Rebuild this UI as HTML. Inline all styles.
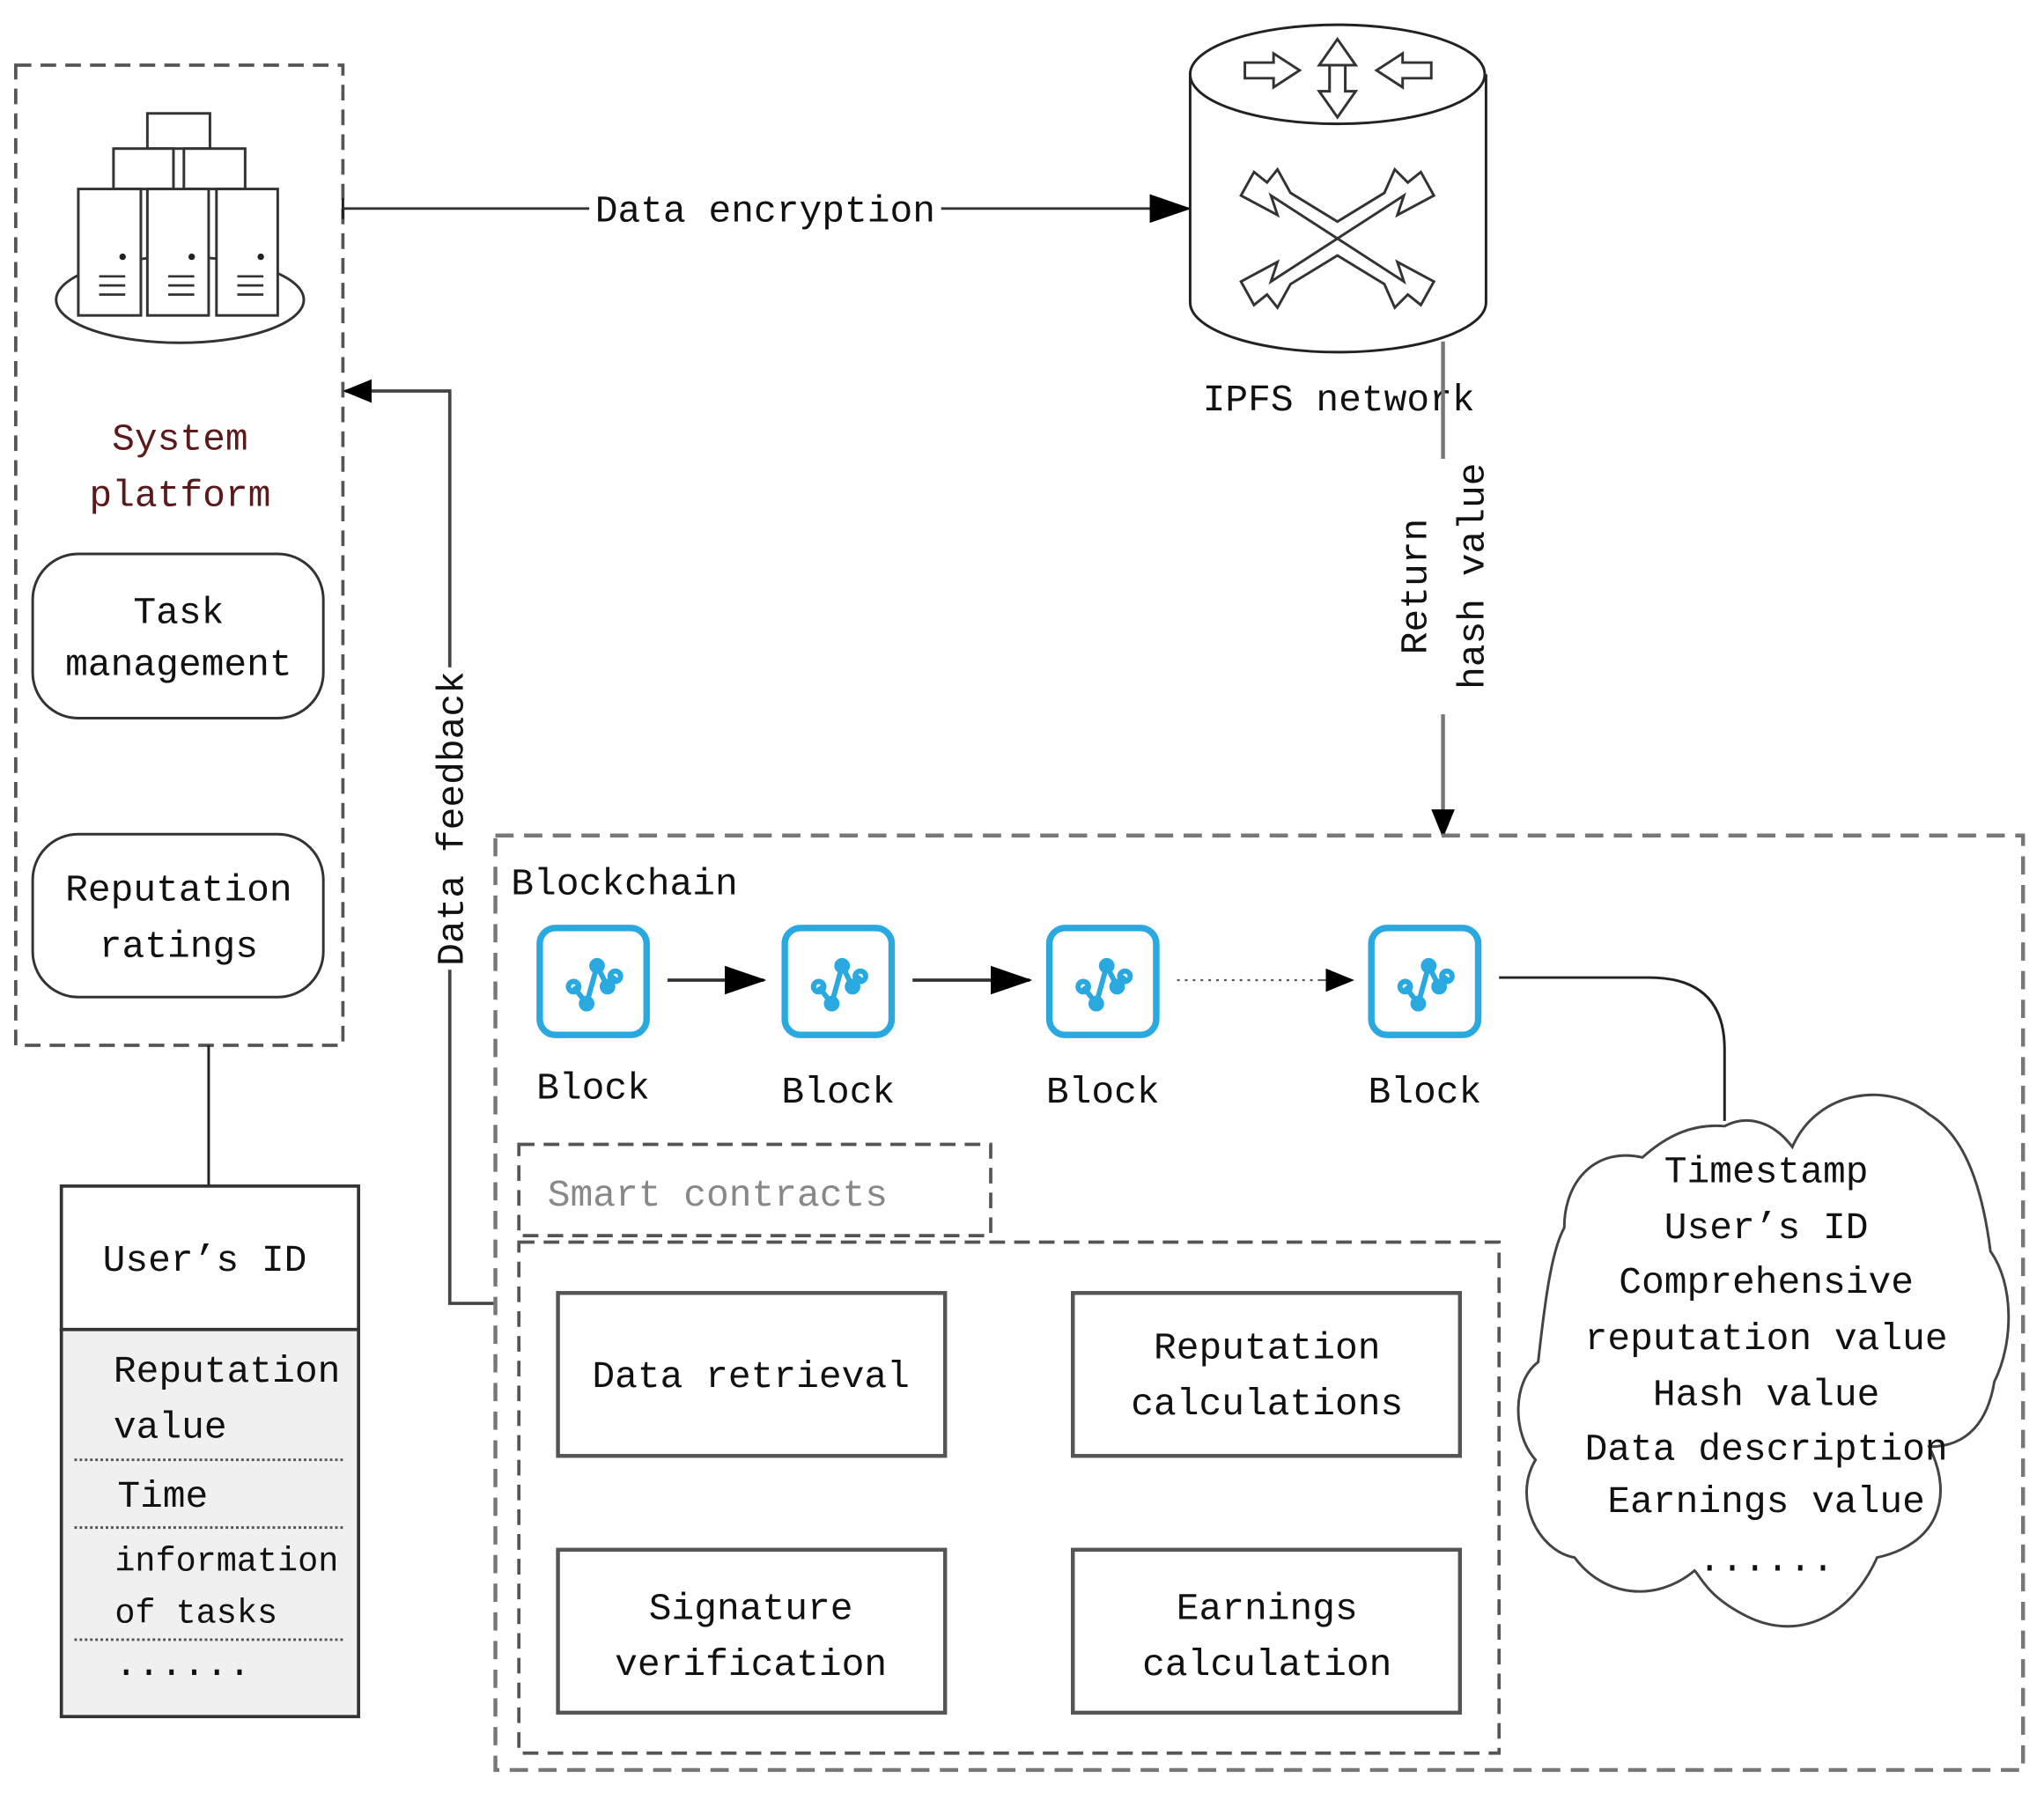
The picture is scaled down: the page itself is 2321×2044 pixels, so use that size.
<!DOCTYPE html>
<html><head><meta charset="utf-8"><style>
html,body{margin:0;padding:0;background:#fff}
svg{display:block}
text{font-family:"Liberation Mono","Noto Sans CJK SC",monospace;font-size:29px;fill:#111}
</style></head><body>
<svg width="2321" height="2044" viewBox="0 0 1568 1381" xmlns="http://www.w3.org/2000/svg">
<defs>
<marker id="ah" markerWidth="32" markerHeight="22" refX="30" refY="11" orient="auto" markerUnits="userSpaceOnUse" viewBox="0 0 32 22"><path d="M0,0 L32,11 L0,22 z" fill="#000"/></marker>
<marker id="ahs" markerWidth="22" markerHeight="18" refX="20" refY="9" orient="auto" markerUnits="userSpaceOnUse" viewBox="0 0 22 18"><path d="M0,0 L22,9 L0,18 z" fill="#000"/></marker>
</defs>
<!-- System platform box -->
<rect x="12" y="50" width="251" height="752" fill="none" stroke="#555" stroke-width="2.5" stroke-dasharray="12 7"/>
<g stroke="#333" stroke-width="2" fill="#fff">
<ellipse cx="138" cy="230" rx="95" ry="33"/>
<rect x="113" y="87" width="48" height="27"/>
<rect x="87" y="114" width="46" height="31"/>
<rect x="141" y="114" width="47" height="31"/>
<rect x="60" y="145" width="48" height="97"/>
<rect x="113" y="145" width="47" height="97"/>
<rect x="166" y="145" width="47" height="97"/>
</g>
<g stroke="#333" stroke-width="1.8">
<path d="M76,212h20M76,219h20M76,226h20M129,212h20M129,219h20M129,226h20M182,212h20M182,219h20M182,226h20"/>
</g>
<g fill="#222"><circle cx="94" cy="197" r="2.5"/><circle cx="147" cy="197" r="2.5"/><circle cx="200" cy="197" r="2.5"/></g>
<text x="138" y="345" text-anchor="middle" style="fill:#5a1a1a">System</text>
<text x="138" y="388" text-anchor="middle" style="fill:#5a1a1a">platform</text>
<rect x="25" y="425" width="223" height="126" rx="35" fill="#fff" stroke="#333" stroke-width="2"/>
<text x="137" y="478" text-anchor="middle">Task</text>
<text x="137" y="518" text-anchor="middle">management</text>
<rect x="25" y="640" width="223" height="125" rx="35" fill="#fff" stroke="#333" stroke-width="2"/>
<text x="137" y="691" text-anchor="middle">Reputation</text>
<text x="137" y="734" text-anchor="middle">ratings</text>
<line x1="160" y1="802" x2="160" y2="910" stroke="#222" stroke-width="2"/>
<rect x="47" y="1020" width="228" height="297" fill="#f0f0f0" stroke="#333" stroke-width="2.5"/>
<rect x="47" y="910" width="228" height="110" fill="#fff" stroke="#333" stroke-width="2.5"/>
<text x="157" y="975" text-anchor="middle">User’s ID</text>
<text x="87" y="1060">Reputation</text>
<text x="87" y="1103">value</text>
<line x1="57" y1="1120" x2="263" y2="1120" stroke="#555" stroke-width="2" stroke-dasharray="2 2"/>
<text x="90" y="1156">Time</text>
<line x1="57" y1="1172" x2="263" y2="1172" stroke="#555" stroke-width="2" stroke-dasharray="2 2"/>
<text x="88" y="1205" style="font-size:26px">information</text>
<text x="88" y="1245" style="font-size:26px">of tasks</text>
<line x1="57" y1="1258" x2="263" y2="1258" stroke="#555" stroke-width="2" stroke-dasharray="2 2"/>
<text x="88" y="1285">......</text>
<!-- Data encryption -->
<line x1="263" y1="152" x2="263" y2="168" stroke="#222" stroke-width="2"/>
<line x1="263" y1="160" x2="912" y2="160" stroke="#333" stroke-width="2" marker-end="url(#ah)"/>
<rect x="452" y="140" width="270" height="36" fill="#fff"/>
<text x="587" y="170" text-anchor="middle">Data encryption</text>
<!-- IPFS cylinder -->
<path d="M913,57 V232 A113,38 0 0 0 1140,232 V57" fill="#fff" stroke="#222" stroke-width="2"/>
<ellipse cx="1026" cy="57" rx="113" ry="38" fill="#fff" stroke="#222" stroke-width="2"/>
<g fill="#fff" stroke="#333" stroke-width="2">
<path d="M955,48 h22 v-7 l20,13 l-20,13 v-7 h-22 z"/>
<path d="M1098,48 h-22 v-7 l-20,13 l20,13 v-7 h22 z"/>
<path d="M1020,72 v-22 h-8 l14,-20 l14,20 h-8 v22 z"/>
<path d="M1020,50 v20 h-8 l14,20 l14,-20 h-8 v-20 z"/>
<path d="M1026,183 L975,150 L980,165 L952,150 L962,132 L972,140 L980,130 L990,148 L1026,170 L1062,148 L1070,130 L1080,140 L1090,132 L1100,150 L1072,165 L1077,150 Z"/>
<path d="M1026,183 L975,216 L980,201 L952,216 L962,234 L972,226 L980,236 L990,218 L1026,196 L1062,218 L1070,236 L1080,226 L1090,234 L1100,216 L1072,201 L1077,216 Z"/>
</g>
<text x="1027" y="315" text-anchor="middle">IPFS network</text>
<!-- return hash value -->
<line x1="1107" y1="262" x2="1107" y2="352" stroke="#777" stroke-width="3"/>
<line x1="1107" y1="548" x2="1107" y2="641" stroke="#777" stroke-width="3" marker-end="url(#ahs)"/>
<text transform="translate(1094,450) rotate(-90)" text-anchor="middle">Return</text>
<text transform="translate(1138,442) rotate(-90)" text-anchor="middle">hash value</text>
<!-- Data feedback -->
<polyline points="380,1000 345,1000 345,300 265,300" fill="none" stroke="#444" stroke-width="2.5" marker-end="url(#ahs)"/>
<rect x="330" y="512" width="30" height="232" fill="#fff"/>
<text transform="translate(355,628) rotate(-90)" text-anchor="middle">Data feedback</text>
<!-- Blockchain box -->
<rect x="380" y="641" width="1172" height="717" fill="none" stroke="#777" stroke-width="3" stroke-dasharray="14 8"/>
<text x="392" y="686">Blockchain</text>
<g fill="none" stroke="#29a9e0" stroke-width="5">
<rect x="414" y="712" width="82" height="82" rx="12"/>
<rect x="602" y="712" width="82" height="82" rx="12"/>
<rect x="805" y="712" width="82" height="82" rx="12"/>
<rect x="1052" y="712" width="82" height="82" rx="12"/>
</g>
<g id="ic" fill="none" stroke="#29a9e0" stroke-width="4">
<path d="M440,757 L450,770 L458,741 L466,757 L472,749"/>
<circle cx="440" cy="757" r="4"/><circle cx="450" cy="770" r="4"/><circle cx="458" cy="741" r="4"/><circle cx="466" cy="757" r="4"/><circle cx="472" cy="749" r="4"/>
</g>
<use href="#ic" x="188"/>
<use href="#ic" x="391"/>
<use href="#ic" x="638"/>
<text x="455" y="843" text-anchor="middle">Block</text>
<text x="643" y="846" text-anchor="middle">Block</text>
<text x="846" y="846" text-anchor="middle">Block</text>
<text x="1093" y="846" text-anchor="middle">Block</text>
<line x1="512" y1="752" x2="586" y2="752" stroke="#333" stroke-width="2.5" marker-end="url(#ah)"/>
<line x1="700" y1="752" x2="790" y2="752" stroke="#333" stroke-width="2.5" marker-end="url(#ah)"/>
<line x1="903" y1="752" x2="1012" y2="752" stroke="#555" stroke-width="1.5" stroke-dasharray="2 4"/>
<line x1="1012" y1="752" x2="1037" y2="752" stroke="#333" stroke-width="1" marker-end="url(#ahs)"/>
<path d="M1150,750 H1265 Q1323,750 1323,805 V860" fill="none" stroke="#222" stroke-width="2"/>
<!-- smart contracts -->
<rect x="398" y="878" width="362" height="70" fill="none" stroke="#555" stroke-width="2.5" stroke-dasharray="12 7"/>
<text x="420" y="925" style="fill:#888">Smart contracts</text>
<rect x="398" y="953" width="752" height="392" fill="none" stroke="#555" stroke-width="2.5" stroke-dasharray="12 7"/>
<g fill="#fff" stroke="#555" stroke-width="3">
<rect x="428" y="992" width="297" height="125"/>
<rect x="823" y="992" width="297" height="125"/>
<rect x="428" y="1189" width="297" height="125"/>
<rect x="823" y="1189" width="297" height="125"/>
</g>
<text x="576" y="1064" text-anchor="middle">Data retrieval</text>
<text x="972" y="1042" text-anchor="middle">Reputation</text>
<text x="972" y="1085" text-anchor="middle">calculations</text>
<text x="576" y="1242" text-anchor="middle">Signature</text>
<text x="576" y="1285" text-anchor="middle">verification</text>
<text x="972" y="1242" text-anchor="middle">Earnings</text>
<text x="972" y="1285" text-anchor="middle">calculation</text>
<!-- cloud -->
<path d="M1323,864 C1340,855 1360,860 1375,880 C1395,835 1450,830 1480,855 C1505,870 1520,905 1527,960 C1545,985 1545,1030 1530,1060 C1525,1090 1510,1110 1480,1110 C1500,1150 1485,1185 1440,1195 C1420,1240 1380,1260 1340,1240 C1310,1225 1305,1210 1300,1205 C1270,1230 1230,1225 1208,1195 C1180,1190 1160,1150 1178,1120 C1160,1100 1160,1060 1180,1045 C1185,1000 1190,960 1200,942 C1200,905 1225,880 1260,888 C1280,870 1300,862 1323,864 Z" fill="#fff" stroke="#444" stroke-width="2"/>
<g style="font-size:28px">
<text x="1355" y="907" text-anchor="middle">Timestamp</text>
<text x="1355" y="950" text-anchor="middle">User’s ID</text>
<text x="1355" y="992" text-anchor="middle">Comprehensive</text>
<text x="1355" y="1035" text-anchor="middle">reputation value</text>
<text x="1355" y="1078" text-anchor="middle">Hash value</text>
<text x="1355" y="1120" text-anchor="middle">Data description</text>
<text x="1355" y="1160" text-anchor="middle">Earnings value</text>
<text x="1355" y="1205" text-anchor="middle">......</text>
</g>
</svg>
</body></html>
